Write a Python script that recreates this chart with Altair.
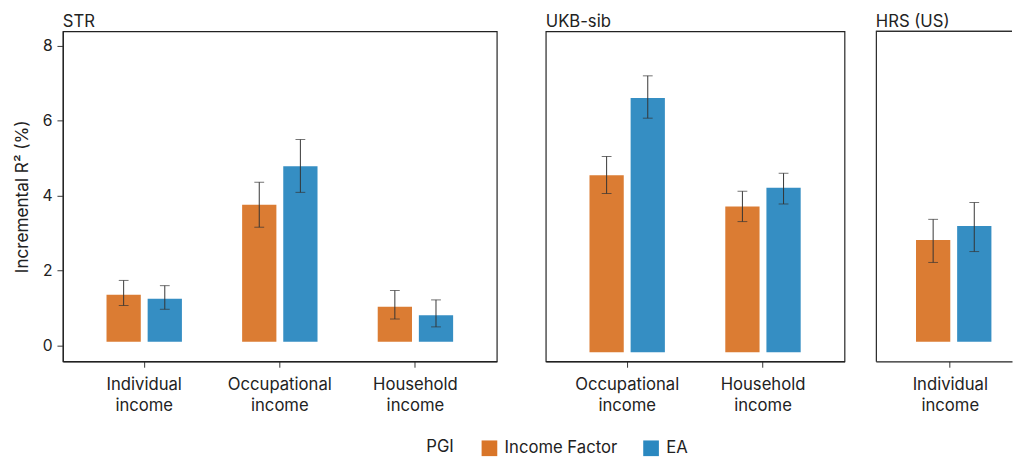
import altair as alt
import pandas as pd

panels = ["STR"] * 6 + ["UKB-sib"] * 4 + ["HRS (US)"] * 2
income = ["Individual income", "Individual income", "Occupational income", "Occupational income",
          "Household income", "Household income",
          "Occupational income", "Occupational income", "Household income", "Household income",
          "Individual income", "Individual income"]
pgi = ["Income Factor", "EA"] * 6
r2 = [1.36, 1.25, 3.76, 4.79, 1.04, 0.81, 4.55, 6.61, 3.71, 4.21, 2.82, 3.19]
lo = [1.07, 0.97, 3.16, 4.09, 0.71, 0.50, 4.06, 6.07, 3.31, 3.78, 2.22, 2.51]
hi = [1.74, 1.60, 4.36, 5.50, 1.47, 1.22, 5.05, 7.20, 4.12, 4.60, 3.37, 3.82]
bar_base = {"STR": 0.1, "UKB-sib": -0.18, "HRS (US)": 0.1}

pgi_order = ["Income Factor", "EA"]
colors = ["#D97528", "#2A88C0"]

df = pd.DataFrame({"panel": panels, "income": income, "pgi": pgi, "r2": r2, "lo": lo, "hi": hi})
df["base"] = df["panel"].map(bar_base)

FONT = "Inter"
YDOM = [-0.42, 8.39]
FRAME = "#222"


def panel(name, cats, width, yaxis, xscale, open_right=False):
    d = df[df.panel == name]
    props = dict(
        width=width, height=337,
        title=alt.TitleParams(name, anchor="start", frame="group", fontSize=17,
                              fontWeight="normal", font=FONT, color="#222", offset=0),
    )
    base = alt.Chart(d)
    x = alt.X("income:N", sort=cats, scale=xscale,
              axis=alt.Axis(title=None, labelExpr="split(datum.label, ' ')", labelAngle=0,
                            labelFontSize=17, labelFont=FONT, labelColor="#222",
                            tickSize=6, tickColor="#333", domainColor=FRAME, domainWidth=1.2,
                            labelPadding=10, labelLineHeight=21))
    xo = alt.XOffset("pgi:N", sort=pgi_order, scale=alt.Scale(paddingInner=0.167, paddingOuter=0))
    yscale = alt.Scale(domain=YDOM, nice=False, zero=False)
    bars = base.mark_bar(opacity=0.95).encode(
        x=x, xOffset=xo,
        y=alt.Y("r2:Q", scale=yscale, axis=yaxis),
        y2="base:Q",
        color=alt.Color("pgi:N", sort=pgi_order,
                        scale=alt.Scale(domain=pgi_order, range=colors),
                        legend=alt.Legend(title="PGI", orient="none", direction="horizontal",
                                          titleOrient="left", legendX=371, legendY=417,
                                          symbolType="square", symbolSize=256,
                                          symbolStrokeWidth=0, symbolOpacity=1,
                                          labelFontSize=17, titleFontSize=17,
                                          labelFont=FONT, titleFont=FONT,
                                          titleFontWeight="normal", labelColor="#222",
                                          titleColor="#222", columnPadding=26,
                                          titlePadding=27, labelOffset=7)),
    )
    err = base.mark_rule(color="#333", strokeWidth=1).encode(
        x=x, xOffset=xo, y=alt.Y("lo:Q", scale=yscale), y2="hi:Q")
    cap_lo = base.mark_tick(color="#333", thickness=1, size=10, orient="horizontal").encode(
        x=x, xOffset=xo, y=alt.Y("lo:Q", scale=yscale))
    cap_hi = base.mark_tick(color="#333", thickness=1, size=10, orient="horizontal").encode(
        x=x, xOffset=xo, y=alt.Y("hi:Q", scale=yscale))
    layers = [bars, err, cap_lo, cap_hi]
    if open_right:
        # top edge of the frame (the figure is cropped at its right side)
        top = base.mark_rule(color=FRAME, strokeWidth=1.2).encode(
            x=alt.value(0), x2=alt.value(width), y=alt.value(0))
        layers.append(top)
        props["view"] = alt.ViewBackground(stroke=None)
    return alt.layer(*layers).properties(**props)


std_scale = alt.Scale(paddingInner=0.444, paddingOuter=0.322)
y_main = alt.Axis(values=[0, 2, 4, 6, 8], title="Incremental R² (%)", grid=False,
                  titleFontSize=17.5, titleFont=FONT, titleFontWeight="normal",
                  titleColor="#222", labelFontSize=16, labelFont=FONT,
                  labelColor="#222", tickSize=6, tickColor="#333",
                  domainColor=FRAME, domainWidth=1.2, titlePadding=11, labelPadding=5)
y_edge = alt.Axis(labels=False, ticks=False, title=None, grid=False,
                  domainColor=FRAME, domainWidth=1.2)

p1 = panel("STR", ["Individual income", "Occupational income", "Household income"], 443,
           y_main, std_scale)
p2 = panel("UKB-sib", ["Occupational income", "Household income"], 305, None, std_scale)
p3 = panel("HRS (US)", ["Individual income"], 139, y_edge,
           alt.Scale(paddingInner=0.444, paddingOuter=0.274, align=0.594), open_right=True)

chart = alt.hconcat(alt.hconcat(p1, p2, spacing=48), p3, spacing=30).configure_view(
    stroke=FRAME, strokeWidth=1.2
).properties(padding={"left": 5, "top": 0, "right": 0, "bottom": 0})

chart.save("out.html", embed_options={"renderer": "svg", "actions": False})
